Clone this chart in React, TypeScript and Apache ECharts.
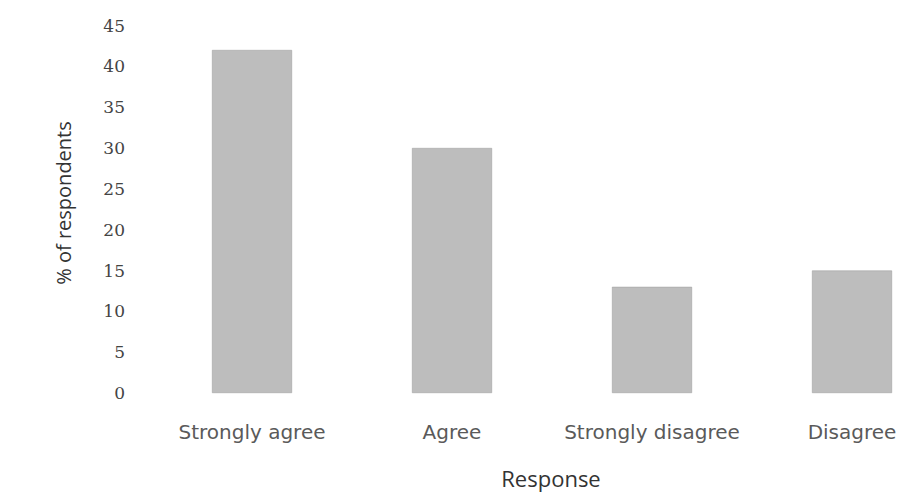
import React, { useEffect, useRef } from "react";
import * as echarts from "echarts";

const categories = ["Strongly agree", "Agree", "Strongly disagree", "Disagree"];
const values = [42, 30, 13, 15];
const yTicks = [0, 5, 10, 15, 20, 25, 30, 35, 40, 45];

export default function App() {
  const ref = useRef<HTMLDivElement>(null);
  useEffect(() => {
    if (!ref.current) return;
    const chart = echarts.init(ref.current, undefined, { renderer: "svg" });
    chart.setOption({
      animation: false,
      backgroundColor: "#ffffff",
      grid: { left: 152, top: 25.5, width: 800, height: 367.5, containLabel: false },
      xAxis: {
        type: "category",
        data: categories,
        axisLine: { show: false },
        axisTick: { show: false },
        axisLabel: {
          interval: 0,
          hideOverlap: false,
          margin: 29,
          fontFamily: "DejaVu Sans",
          fontSize: 20,
          color: "#5a5a5a",
        },
      },
      yAxis: {
        type: "value",
        min: yTicks[0],
        max: yTicks[yTicks.length - 1],
        interval: 5,
        axisLine: { show: false },
        axisTick: { show: false },
        splitLine: { show: false },
        axisLabel: {
          margin: 27,
          align: "right",
          fontFamily: "DejaVu Serif",
          fontSize: 17,
          color: "#444444",
        },
      },
      graphic: [
        {
          type: "text",
          x: 63,
          y: 203,
          rotation: Math.PI / 2,
          style: {
            text: "% of respondents",
            fontFamily: "Open Sans",
            fontSize: 20,
            fill: "#333333",
            align: "center",
            verticalAlign: "middle",
          },
        },
        {
          type: "text",
          x: 551,
          y: 478,
          style: {
            text: "Response",
            fontFamily: "Open Sans",
            fontSize: 22,
            fill: "#333333",
            align: "center",
            verticalAlign: "middle",
          },
        },
      ],
      series: [
        {
          type: "bar",
          data: values,
          barWidth: 80,
          itemStyle: { color: "#bdbdbd", borderColor: "#9a9a9a", borderWidth: 0.5 },
        },
      ],
    });
    return () => chart.dispose();
  }, []);
  return (
    <div
      style={{ position: "fixed", left: 0, top: 0, width: 902, height: 496, overflow: "hidden", background: "#fff" }}
    >
      <div ref={ref} style={{ width: 960, height: 496 }} />
    </div>
  );
}
